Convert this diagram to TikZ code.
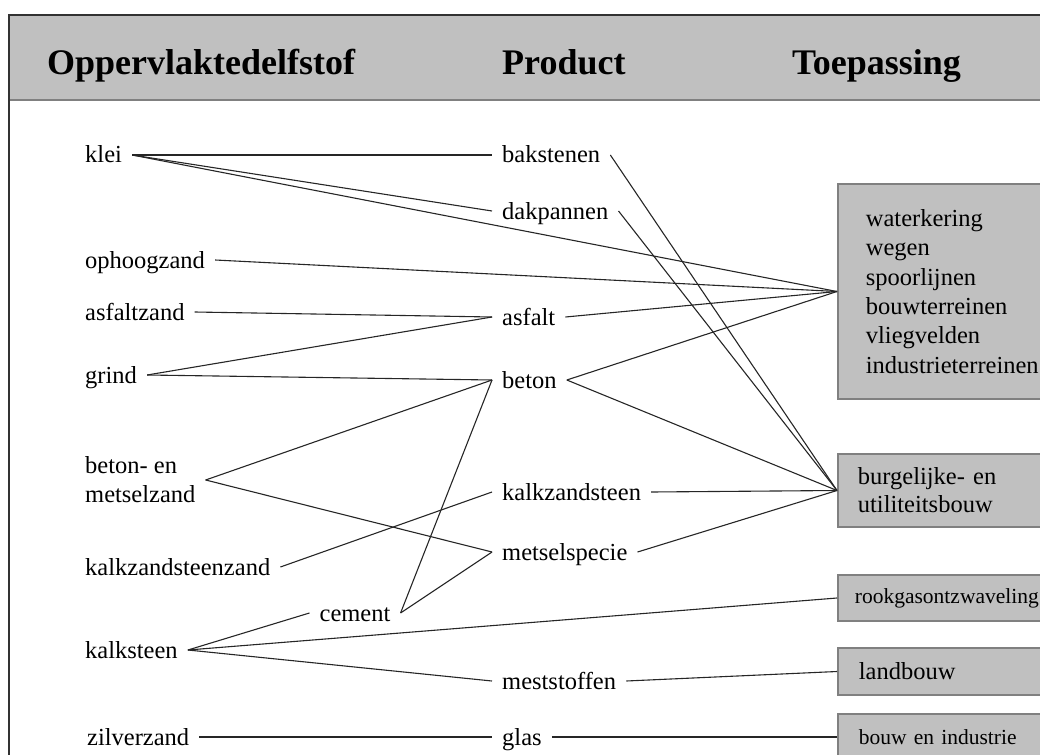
\documentclass[tikz,border=0pt]{standalone}
\usepackage{fontspec}
\setmainfont{Liberation Serif}
\definecolor{boxgray}{RGB}{192,192,192}
\definecolor{boxedge}{RGB}{128,128,128}
\definecolor{framecol}{RGB}{50,50,50}
\tikzset{
  lab/.style={font=\fontsize{24.5}{29}\selectfont, inner xsep=10pt, inner ysep=0pt,
              text height=16pt, text depth=0pt, anchor=west},
  labtwo/.style={font=\fontsize{24.5}{29}\selectfont, inner xsep=10pt, inner ysep=0pt,
              align=left, anchor=west},
  conn/.style={line width=1.1pt, black!85},
  tbox/.style={draw=boxedge, fill=boxgray, line width=1.8pt, anchor=west, align=left,
              inner ysep=0pt, text width=200pt, font=\fontsize{24.5}{29.4}\selectfont},
  smallbox/.style={tbox, font=\fontsize{21.5}{26}\selectfont},
  hdr/.style={font=\bfseries\fontsize{36}{36}\selectfont, inner sep=0pt, anchor=base west}
}
\begin{document}
\begin{tikzpicture}[x=1pt,y=-1pt]
\useasboundingbox (0,0) rectangle (1040,754);
\clip (0,0) rectangle (1040,754);
% header band and frame
\fill[boxgray] (9,15) rectangle (1060,100);
\draw[boxedge, line width=1.5pt] (9,100) -- (1060,100);
\draw[framecol, line width=2pt] (9,770) -- (9,15) -- (1060,15);
\node[hdr] (h1) at (47,75) {Oppervlaktedelfstof};
\node[hdr] (h2) at (502,75) {Product};
\node[hdr] (h3) at (792,75) {Toepassing};
% left column
\node[lab] (klei) at (75,155) {klei};
\node[lab] (ophoogzand) at (75,260) {ophoogzand};
\node[lab] (asfaltzand) at (75,312) {asfaltzand};
\node[lab] (grind) at (75,375) {grind};
\node[labtwo] (betonmz) at (75,480) {beton- en\\metselzand};
\node[lab] (kzsz) at (75,567) {kalkzandsteenzand};
\node[lab] (kalksteen) at (75,650) {kalksteen};
\node[lab] (zilverzand) at (77,737) {zilverzand};
\node[lab, anchor=center] (cement) at (355,613) {cement};
% middle column
\node[lab] (bakstenen) at (492,155) {bakstenen};
\node[lab] (dakpannen) at (492,211) {dakpannen};
\node[lab] (asfalt) at (492,317) {asfalt};
\node[lab] (beton) at (492,380) {beton};
\node[lab] (kalkzandsteen) at (492,492) {kalkzandsteen};
\node[lab] (metselspecie) at (492,552) {metselspecie};
\node[lab] (meststoffen) at (492,681) {meststoffen};
\node[lab] (glas) at (492,737) {glas};
% right boxes
\node[tbox, minimum height=215pt, inner xsep=28pt] (b1) at (837,291.5)
  {waterkering\\wegen\\spoorlijnen\\bouwterreinen\\vliegvelden\\industrieterreinen};
\node[tbox, minimum height=73pt, inner xsep=20pt, font=\fontsize{24.5}{28}\selectfont] (b2) at (837,490.5)
  {burgelijke- en\\utiliteitsbouw};
\node[smallbox, minimum height=46pt, inner xsep=17pt] (b3) at (837,598) {rookgasontzwaveling};
\node[tbox, minimum height=47pt, inner xsep=21pt] (b4) at (837,671.5) {landbouw};
\node[smallbox, minimum height=46pt, inner xsep=21pt] (b5) at (837,737) {bouw en industrie};
% connectors
\draw[conn] (klei.east) -- (bakstenen.west);
\draw[conn] (klei.east) -- (dakpannen.west);
\draw[conn] (klei.east) -- (b1.west);
\draw[conn] (ophoogzand.east) -- (b1.west);
\draw[conn] (asfaltzand.east) -- (asfalt.west);
\draw[conn] (grind.east) -- (asfalt.west);
\draw[conn] (grind.east) -- (beton.west);
\draw[conn] (betonmz.east) -- (beton.west);
\draw[conn] (betonmz.east) -- (metselspecie.west);
\draw[conn] (kzsz.east) -- (kalkzandsteen.west);
\draw[conn] (kalksteen.east) -- (cement.west);
\draw[conn] (kalksteen.east) -- (b3.west);
\draw[conn] (kalksteen.east) -- (meststoffen.west);
\draw[conn] (cement.east) -- (beton.west);
\draw[conn] (cement.east) -- (metselspecie.west);
\draw[conn] (zilverzand.east) -- (glas.west);
\draw[conn] (bakstenen.east) -- (b2.west);
\draw[conn] (dakpannen.east) -- (b2.west);
\draw[conn] (asfalt.east) -- (b1.west);
\draw[conn] (beton.east) -- (b1.west);
\draw[conn] (beton.east) -- (b2.west);
\draw[conn] (kalkzandsteen.east) -- (b2.west);
\draw[conn] (metselspecie.east) -- (b2.west);
\draw[conn] (meststoffen.east) -- (b4.west);
\draw[conn] (glas.east) -- (b5.west);
\end{tikzpicture}
\end{document}
